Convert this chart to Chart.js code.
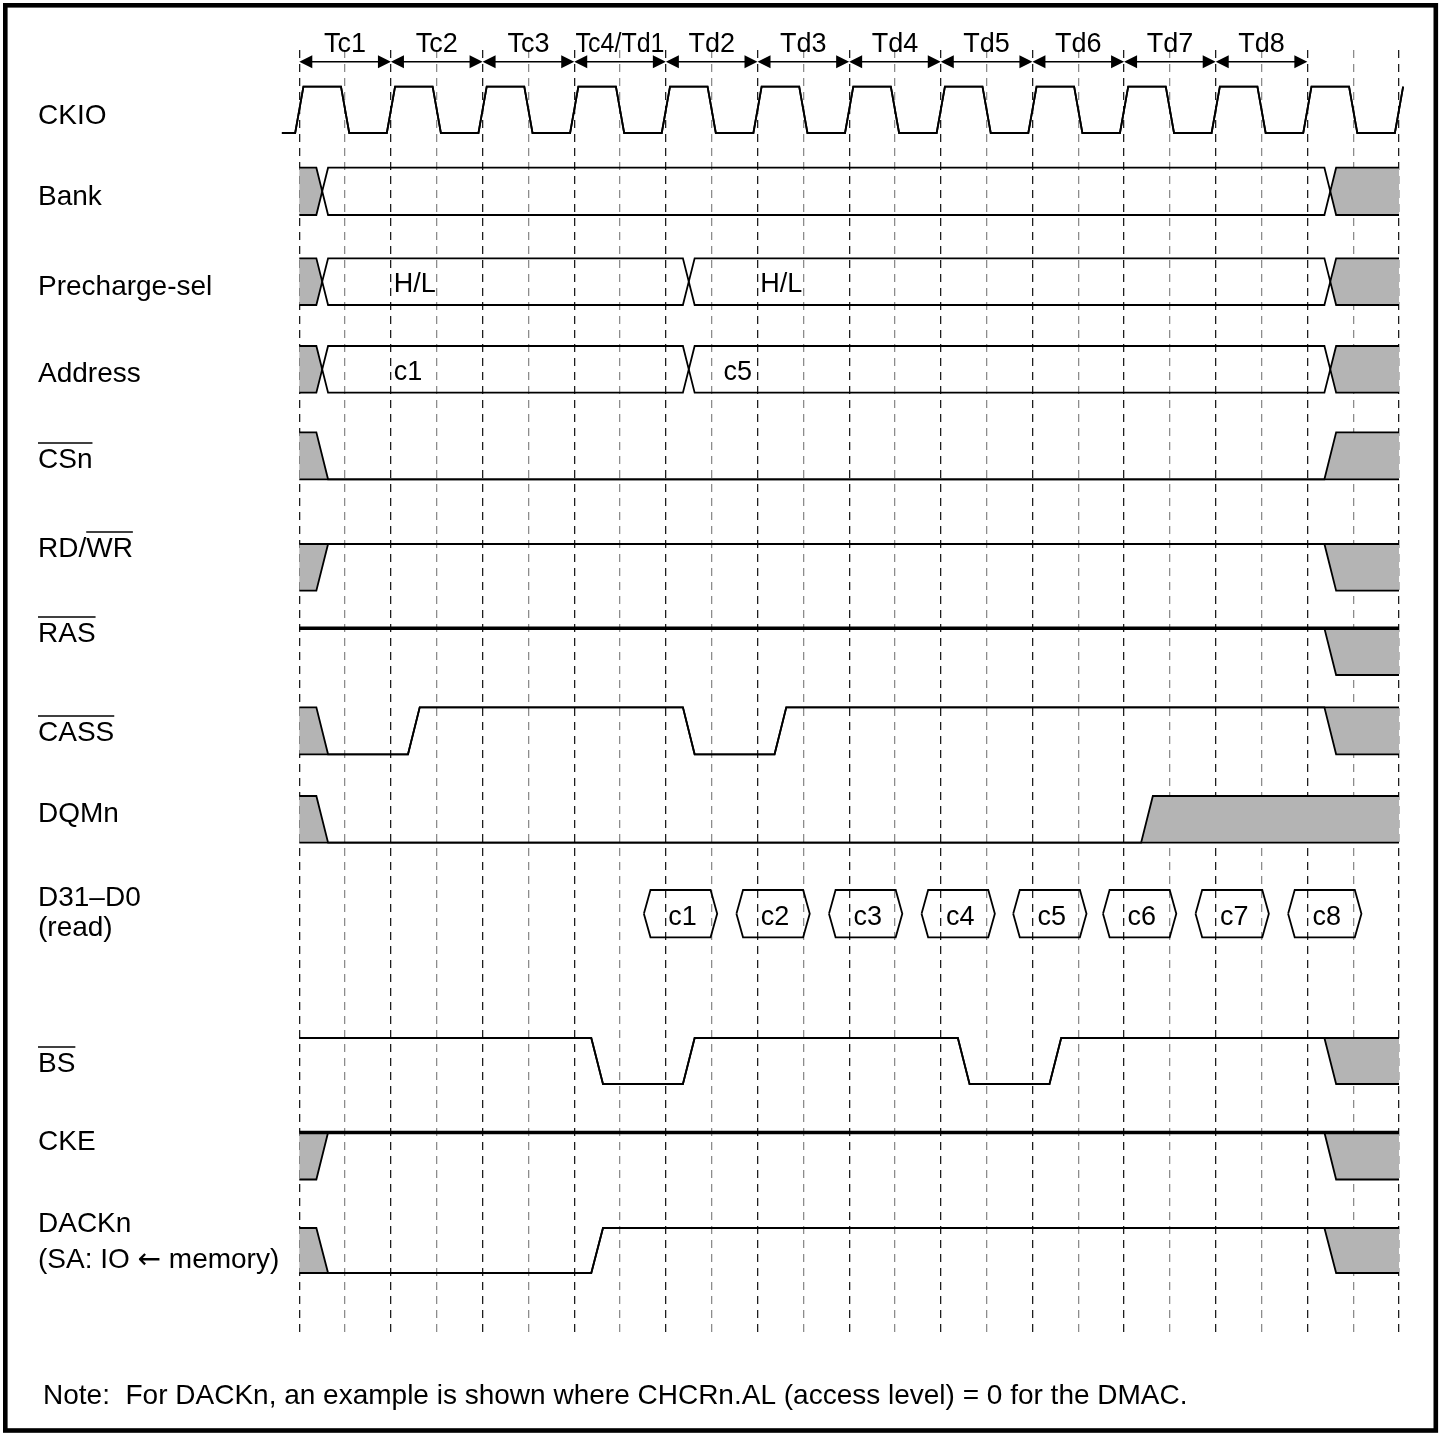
<!DOCTYPE html>
<html>
<head>
<title>SDRAM burst read timing</title>
<script src="https://cdn.jsdelivr.net/npm/chart.js@4.4.0/dist/chart.umd.min.js"></script>
<style>
    html, body { margin: 0; padding: 0; background: #fff; }
    canvas { display: block; }
</style>
</head>
<body>
<canvas id="timing" width="1444" height="1436"></canvas>
<script>
// one label per clock cycle, cycle k spans t = k .. k+1 (t in clock cycles)
const cycleLabels = ['Tc1', 'Tc2', 'Tc3', 'Tc4/Td1', 'Td2', 'Td3', 'Td4', 'Td5', 'Td6', 'Td7', 'Td8'];

// dashed guide lines, every half cycle
const gridTimes = [0, 0.5, 1, 1.5, 2, 2.5, 3, 3.5, 4, 4.5, 5, 5.5, 6, 6.5, 7, 7.5, 8, 8.5, 9, 9.5, 10, 10.5, 11, 11.5, 12];

const signalNames = ['CKIO', 'Bank', 'Precharge-sel', 'Address', 'CSn', 'RD/WR', 'RAS', 'CASS', 'DQMn',
    'D31–D0\n(read)', 'BS', 'CKE', 'DACKn\n(SA: IO ← memory)'];
// characters of the name that carry a bar (active low): [from, to]
const overbars = [null, null, null, null, [0, 3], [3, 5], [0, 3], [0, 4], null, null, [0, 2], null, null];

// states: [time, level, label time]  H = high, L = low, X = undefined,
// any other string = valid bus value (text shown at label time)
const ckio = [[-0.19, 'L'], [0, 'H'], [0.5, 'L'], [1, 'H'], [1.5, 'L'], [2, 'H'], [2.5, 'L'], [3, 'H'], [3.5, 'L'],
    [4, 'H'], [4.5, 'L'], [5, 'H'], [5.5, 'L'], [6, 'H'], [6.5, 'L'], [7, 'H'], [7.5, 'L'], [8, 'H'], [8.5, 'L'],
    [9, 'H'], [9.5, 'L'], [10, 'H'], [10.5, 'L'], [11, 'H'], [11.5, 'L'], [12, 'H']];
const bank = [[0, 'X'], [0.25, ''], [11.25, 'X']];
const prechargeSel = [[0, 'X'], [0.25, 'H/L', 1.03], [4.25, 'H/L', 5.03], [11.25, 'X']];
const address = [[0, 'X'], [0.25, 'c1', 1.03], [4.25, 'c5', 4.63], [11.25, 'X']];
const csn = [[0, 'X'], [0.25, 'L'], [11.25, 'X']];
const rdwr = [[0, 'X'], [0.25, 'H'], [11.25, 'X']];
const ras = [[0, 'H'], [11.25, 'X']];
const cass = [[0, 'X'], [0.25, 'L'], [1.25, 'H'], [4.25, 'L'], [5.25, 'H'], [11.25, 'X']];
const dqmn = [[0, 'X'], [0.25, 'L'], [9.25, 'X']];
const bs = [[0, 'H'], [3.25, 'L'], [4.25, 'H'], [7.25, 'L'], [8.25, 'H'], [11.25, 'X']];
const cke = [[0, 'X'], [0.25, 'H'], [11.25, 'X']];
const dackn = [[0, 'X'], [0.25, 'L'], [3.25, 'H'], [11.25, 'X']];

// read data on D31-D0: valid windows
const readData = ['c1', 'c2', 'c3', 'c4', 'c5', 'c6', 'c7', 'c8'];
const readStart = [3.76, 4.77, 5.78, 6.79, 7.79, 8.77, 9.78, 10.79];
const readEnd = [4.56, 5.57, 6.58, 7.59, 8.59, 9.57, 10.58, 11.59];

const waves = [ckio, bank, prechargeSel, address, csn, rdwr, ras, cass, dqmn, null, bs, cke, dackn];

// ---- layout (y in canvas pixels) ----
const rowHigh = [86.7, 167.7, 258.3, 346, 432.3, 544, 628.3, 707.3, 796, 890, 1038, 1132.5, 1228];
const rowLow = [133, 215, 305, 392.7, 479.3, 590.7, 675, 754.3, 842.7, 937.3, 1084, 1179.5, 1273];
const labelBase = [123.5, 204.5, 295, 382, 468, 557, 642, 741, 822, 906, 1072, 1150, 1232];
const labelGap = [0, 0, 0, 0, 0, 0, 0, 0, 0, 30, 0, 0, 35.5];
const thickRows = [6, 11];
const FAMILY = "'Liberation Sans', Arial, Helvetica, sans-serif";
const NAME_FONT = '28px ' + FAMILY;
const FONT = '27px ' + FAMILY;
const ARROW_FONT = "28px 'DejaVu Sans', sans-serif";
const LABEL_X = 38;
const EDGE = 0.064;
const CLOCK_EDGE = 0.045;
const HEX_TIP = 0.072;
const GREY = '#b4b4b4';

const isLevel = s => s === 'H' || s === 'L';
const isBus = s => !isLevel(s);

function buildPaths(states, hi, lo, e, end) {
    const mid = (hi + lo) / 2;
    const up = s => s === 'L' ? lo : hi;
    const dn = s => s === 'H' ? hi : lo;
    const upper = [], lower = [];
    states.forEach(([t, s], i) => {
        if (i === 0) {
            upper.push({x: t, y: up(s)});
            lower.push({x: t, y: dn(s)});
            return;
        }
        const p = states[i - 1][1];
        if (isBus(p) && isBus(s)) {
            upper.push({x: t - e, y: hi}, {x: t, y: mid}, {x: t + e, y: hi});
            lower.push({x: t - e, y: lo}, {x: t, y: mid}, {x: t + e, y: lo});
        } else {
            upper.push({x: t - e, y: up(p)}, {x: t + e, y: up(s)});
            lower.push({x: t - e, y: dn(p)}, {x: t + e, y: dn(s)});
        }
    });
    const last = states[states.length - 1][1];
    if (end > upper[upper.length - 1].x) {
        upper.push({x: end, y: up(last)});
        lower.push({x: end, y: dn(last)});
    }
    return {upper, lower};
}

function greyAreas(states, hi, lo, e, end) {
    const mid = (hi + lo) / 2;
    const up = s => s === 'L' ? lo : hi;
    const dn = s => s === 'H' ? hi : lo;
    const areas = [];
    states.forEach(([ts, s], i) => {
        if (s !== 'X') return;
        const top = [], bot = [];
        const prev = i > 0 ? states[i - 1][1] : null;
        const next = i + 1 < states.length ? states[i + 1] : null;
        if (prev === null) {
            top.push({x: ts, y: hi}); bot.push({x: ts, y: lo});
        } else if (isBus(prev)) {
            top.push({x: ts, y: mid}, {x: ts + e, y: hi}); bot.push({x: ts + e, y: lo});
        } else {
            top.push({x: ts - e, y: up(prev)}, {x: ts + e, y: hi}); bot.push({x: ts + e, y: lo}, {x: ts - e, y: dn(prev)});
            bot.reverse();
        }
        if (next === null) {
            top.push({x: end, y: hi}); bot.push({x: end, y: lo});
        } else if (isBus(next[1])) {
            top.push({x: next[0] - e, y: hi}, {x: next[0], y: mid}); bot.push({x: next[0] - e, y: lo});
        } else {
            top.push({x: next[0] - e, y: hi}, {x: next[0] + e, y: up(next[1])});
            bot.push({x: next[0] - e, y: lo}, {x: next[0] + e, y: dn(next[1])});
        }
        areas.push(top.concat(bot.reverse()));
    });
    return areas;
}

const datasets = [];
const lineSet = (data, width) => ({
    data, showLine: true, fill: false, borderColor: '#000', borderWidth: width,
    pointRadius: 0, clip: false, order: 0
});

waves.forEach((states, i) => {
    if (!states) return;
    const e = i === 0 ? CLOCK_EDGE : EDGE;
    const {upper, lower} = buildPaths(states, rowHigh[i], rowLow[i], e, 12);
    greyAreas(states, rowHigh[i], rowLow[i], e, 12).forEach(poly => {
        datasets.push({
            data: poly, showLine: true, fill: 'shape', backgroundColor: GREY,
            borderColor: 'rgba(0,0,0,0)', borderWidth: 0, pointRadius: 0, clip: false, order: 2
        });
    });
    datasets.push(lineSet(lower, 1.8));
    datasets.push(lineSet(upper, thickRows.includes(i) ? 3.6 : 1.8));
});

// D31-D0 data windows as hexagons
const dRow = 9;
const dMid = (rowHigh[dRow] + rowLow[dRow]) / 2;
readData.forEach((_, k) => {
    const s = readStart[k], e = readEnd[k];
    datasets.push(lineSet([
        {x: s, y: dMid}, {x: s + HEX_TIP, y: rowHigh[dRow]}, {x: e - HEX_TIP, y: rowHigh[dRow]},
        {x: e, y: dMid}, {x: e - HEX_TIP, y: rowLow[dRow]}, {x: s + HEX_TIP, y: rowLow[dRow]}, {x: s, y: dMid}
    ], 1.8));
});

const timingText = {
    id: 'timingText',
    afterDraw(chart) {
        const ctx = chart.ctx;
        const px = t => chart.scales.x.getPixelForValue(t);
        ctx.save();
        ctx.fillStyle = '#000';
        ctx.strokeStyle = '#000';
        ctx.textBaseline = 'alphabetic';
        ctx.textAlign = 'left';

        const seg = (x0, y0, x1, y1, w) => {
            ctx.lineWidth = w;
            ctx.beginPath();
            ctx.moveTo(x0, y0);
            ctx.lineTo(x1, y1);
            ctx.stroke();
        };

        // a name line; the arrow glyph is taken from DejaVu, which draws it full size
        const nameLine = (text, x, y) => {
            const parts = text.split('←');
            parts.forEach((part, k) => {
                ctx.font = NAME_FONT;
                ctx.fillText(part, x, y);
                x += ctx.measureText(part).width;
                if (k < parts.length - 1) {
                    ctx.font = ARROW_FONT;
                    ctx.fillText('←', x, y);
                    x += ctx.measureText('←').width;
                }
            });
            ctx.font = NAME_FONT;
        };

        // signal names
        signalNames.forEach((name, i) => {
            name.split('\n').forEach((line, j) => nameLine(line, LABEL_X, labelBase[i] + j * labelGap[i]));
            const ob = overbars[i];
            if (ob) {
                ctx.font = NAME_FONT;
                const x0 = LABEL_X + ctx.measureText(name.slice(0, ob[0])).width;
                const x1 = LABEL_X + ctx.measureText(name.slice(0, ob[1])).width;
                seg(x0, labelBase[i] - 25, x1, labelBase[i] - 25, 1.6);
            }
        });

        // bus values
        ctx.font = FONT;
        waves.forEach((states, i) => {
            if (!states) return;
            const mid = (rowHigh[i] + rowLow[i]) / 2;
            states.forEach(st => {
                if (isBus(st[1]) && st[1] !== 'X' && st[1] !== '' && st[2] !== undefined) {
                    ctx.fillText(st[1], px(st[2]), mid + 10.5);
                }
            });
        });

        // read data labels
        ctx.textAlign = 'center';
        readData.forEach((lab, k) => {
            ctx.fillText(lab, (px(readStart[k]) + px(readEnd[k])) / 2 + 2, dMid + 11);
        });

        // cycle arrows and names
        const ay = 61.7;
        cycleLabels.forEach((lab, k) => {
            const x0 = px(k), x1 = px(k + 1);
            ctx.fillText(lab, (x0 + x1) / 2, 51.7, (x1 - x0) * 0.97);
            seg(x0 + 4, ay, x1 - 4, ay, 1.5);
            ctx.beginPath();
            ctx.moveTo(x0, ay); ctx.lineTo(x0 + 13, ay - 6.5); ctx.lineTo(x0 + 13, ay + 6.5); ctx.closePath();
            ctx.moveTo(x1, ay); ctx.lineTo(x1 - 13, ay - 6.5); ctx.lineTo(x1 - 13, ay + 6.5); ctx.closePath();
            ctx.fill();
        });

        // note
        ctx.textAlign = 'left';
        ctx.font = NAME_FONT;
        ctx.fillText('Note:  For DACKn, an example is shown where CHCRn.AL (access level) = 0 for the DMAC.', 43, 1404);

        // frame
        ctx.lineWidth = 4.6;
        ctx.strokeRect(5.3, 5.3, 1430.5, 1425.2);
        ctx.restore();
    }
};

new Chart(document.getElementById('timing'), {
    type: 'scatter',
    data: { datasets },
    options: {
        responsive: false,
        animation: false,
        devicePixelRatio: 1,
        events: [],
        layout: { padding: { left: 276.39, right: 22.09, top: 50, bottom: 101 } },
        plugins: { legend: { display: false }, tooltip: { enabled: false } },
        elements: { point: { radius: 0 }, line: { tension: 0 } },
        scales: {
            x: {
                type: 'linear',
                min: -0.25,
                max: 12.25,
                afterBuildTicks: scale => { scale.ticks = gridTimes.map(v => ({ value: v })); },
                ticks: { display: false, autoSkip: false },
                grid: {
                    drawTicks: false,
                    lineWidth: 1.3,
                    color: c => (c.tick && Number.isInteger(c.tick.value)) ? '#1e1e1e' : '#8c8c8c'
                },
                border: { display: false, dash: [8, 6] }
            },
            y: { type: 'linear', display: false, min: 50, max: 1335, reverse: true }
        }
    },
    plugins: [timingText]
});
</script>
</body>
</html>
